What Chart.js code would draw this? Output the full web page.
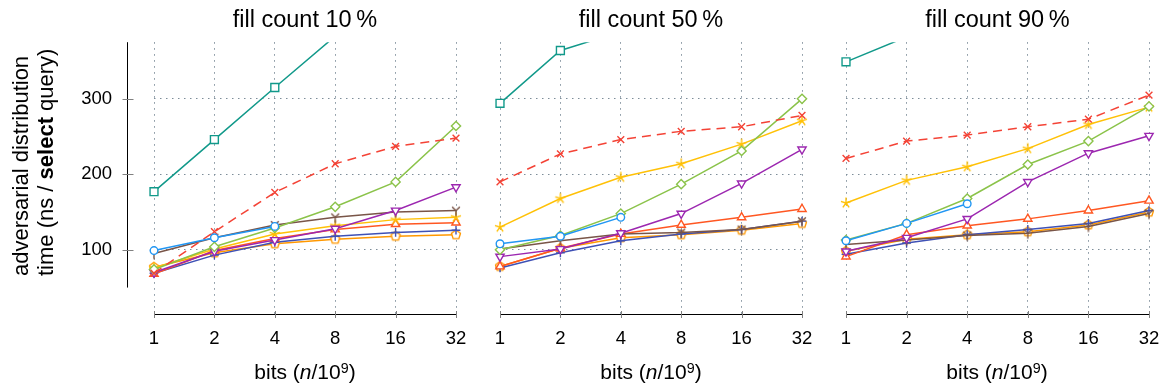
<!DOCTYPE html>
<html><head><meta charset="utf-8">
<script src="https://cdn.jsdelivr.net/npm/chart.js@4.4.1/dist/chart.umd.min.js"></script>
<style>
html,body{margin:0;padding:0;background:#fff;}
#wrap{position:relative;width:1161px;height:387px;overflow:hidden;font-family:"Liberation Sans",Arial,sans-serif;color:#000;}
canvas{position:absolute;top:0;}
.xt{position:absolute;top:360px;width:240px;margin-left:-120px;font-size:21px;line-height:24px;white-space:nowrap;text-align:center;}
.xt .sup{position:relative;top:-0.45em;font-size:0.68em;}
.yt{position:absolute;left:8px;top:276px;transform-origin:0 0;transform:rotate(-90deg);font-size:22px;line-height:25px;white-space:nowrap;text-align:left;}
</style></head><body>
<div id="wrap">
<canvas id="c0" width="470" height="387" style="left:0px"></canvas>
<canvas id="c1" width="344" height="387" style="left:470px"></canvas>
<canvas id="c2" width="345" height="387" style="left:816px"></canvas>
<div class="yt">adversarial distribution<br>time (ns / <b>select</b> query)</div>
<div class="xt" style="left:305px">bits (<i>n</i>/10<span class="sup">9</span>)</div>
<div class="xt" style="left:651px">bits (<i>n</i>/10<span class="sup">9</span>)</div>
<div class="xt" style="left:997px">bits (<i>n</i>/10<span class="sup">9</span>)</div>
</div>
<script>
// ---- data ----
const xLabels = ['1', '2', '4', '8', '16', '32'];
const panelTitles = ['fill count 10\u2009%', 'fill count 50\u2009%', 'fill count 90\u2009%'];
const yTicks = [100, 200, 300];

// one inner array per panel (10 %, 50 %, 90 %)
const tealSquare   = [[177, 246, 315, 383, 450, 520], [294, 364, 389, 415, 440, 465], [349, 382, 405, 425, 445, 465]];
const redCrossDash = [[69, 124, 176, 214, 237, 248], [190, 227, 246, 257, 263, 278], [221, 244, 252, 263, 273, 305]];
const greenDiamond = [[74, 104, 129, 157, 190, 264], [100, 119, 148, 187, 231, 300], [113, 135, 168, 213, 244, 290]];
const purpleTriDown= [[70, 98, 113, 128, 152, 183], [91, 101, 122, 148, 188, 233], [98, 116, 141, 190, 228, 251]];
const brownY       = [[95, 116, 133, 143, 150, 152], [101, 112, 121, 123, 127, 138], [107, 113, 119, 122, 131, 148]];
const yellowStar   = [[76, 101, 121, 132, 140, 143], [130, 168, 196, 214, 240, 271], [162, 192, 210, 234, 266, 289]];
const redTriangle  = [[68, 99, 115, 127, 134, 136], [78, 102, 121, 133, 143, 154], [91, 120, 132, 141, 152, 165]];
const indigoPlus   = [[69, 93, 110, 118, 123, 126], [76, 96, 112, 121, 127, 138], [94, 109, 120, 127, 135, 152]];
const orangePent   = [[77, 96, 108, 114, 118, 120], [78, 102, 116, 120, 126, 135], [98, 114, 120, 124, 133, 150]];
const blueCircle   = [[99, 116, 131, null, null, null], [108, 118, 143, null, null, null], [112, 135, 161, null, null, null]];
const redSmallX    = [[99, 116, 131, null, null, null], [108, 118, 143, null, null, null], [112, 135, 161, null, null, null]];

// ---- custom markers ----
function marker(kind, color) {
  const c = document.createElement('canvas');
  c.width = 14; c.height = 14;
  const g = c.getContext('2d');
  g.strokeStyle = color; g.fillStyle = '#fff'; g.lineWidth = 1.4; g.lineJoin = 'miter';
  const cx = 7, cy = 7;
  if (kind === 'pent') {
    g.beginPath();
    for (let k = 0; k < 5; k++) {
      const a = -Math.PI / 2 + k * 2 * Math.PI / 5;
      const px = cx + 4.8 * Math.cos(a), py = cy + 4.8 * Math.sin(a);
      k ? g.lineTo(px, py) : g.moveTo(px, py);
    }
    g.closePath(); g.fill(); g.stroke();
  } else if (kind === 'star') {
    g.beginPath();
    for (let k = 0; k < 5; k++) {
      const a = -Math.PI / 2 + k * 2 * Math.PI / 5;
      g.moveTo(cx, cy); g.lineTo(cx + 5.4 * Math.cos(a), cy + 5.4 * Math.sin(a));
    }
    g.stroke();
  } else if (kind === 'y') {
    g.beginPath();
    [Math.PI / 2, -Math.PI / 2 - 0.8, -Math.PI / 2 + 0.8].forEach(a => {
      g.moveTo(cx, cy); g.lineTo(cx + 5.4 * Math.cos(a), cy + 5.4 * Math.sin(a));
    });
    g.stroke();
  }
  return c;
}

const FAMILY = '"Liberation Sans", Arial, Helvetica, sans-serif';
const series = [
  { data: blueCircle,   color: '#2196f3', style: 'circle',   r: 3.8 },
  { data: redSmallX,    color: '#f44336', style: 'crossRot', r: 2.6, noLine: true },
  { data: tealSquare,   color: '#11998a', style: 'rect',     r: 5.6 },
  { data: redCrossDash, color: '#f44336', style: 'crossRot', r: 4.8, dash: [9, 6] },
  { data: greenDiamond, color: '#8bc34a', style: 'rectRot',  r: 4.6 },
  { data: purpleTriDown,color: '#9c27b0', style: 'triangle', r: 4.8, rot: 180 },
  { data: brownY,       color: '#795548', style: marker('y', '#795548'), r: 4 },
  { data: yellowStar,   color: '#ffc107', style: marker('star', '#ffc107'), r: 4 },
  { data: redTriangle,  color: '#ff5722', style: 'triangle', r: 4.8 },
  { data: indigoPlus,   color: '#3f51b5', style: 'cross',    r: 4.4 },
  { data: orangePent,   color: '#ff9800', style: marker('pent', '#ff9800'), r: 4 }
];

const GRID = '#7d8d99';
const axisDeco = {
  id: 'axisDeco',
  afterDraw(chart, args, opts) {
    const { ctx, chartArea, scales } = chart;
    const xs = scales.x, ys = scales.y;
    ctx.save();
    ctx.lineWidth = 1;
    ctx.strokeStyle = '#808080';
    xs.ticks.forEach((t, i) => {
      const px = Math.round(xs.getPixelForTick(i)) + 0.5;
      ctx.beginPath(); ctx.moveTo(px, chartArea.bottom - 3); ctx.lineTo(px, chartArea.bottom + 4); ctx.stroke();
    });
    if (opts.yLine) {
      const ax = Math.round(chartArea.left - 27) + 0.5;
      ctx.strokeStyle = '#000';
      ctx.beginPath(); ctx.moveTo(ax, ys.getPixelForValue(375)); ctx.lineTo(ax, ys.getPixelForValue(50)); ctx.stroke();
      ctx.strokeStyle = '#808080';
      yTicks.forEach(v => {
        const py = Math.round(ys.getPixelForValue(v)) + 0.5;
        ctx.beginPath(); ctx.moveTo(ax - 5, py); ctx.lineTo(ax + 6, py); ctx.stroke();
      });
    }
    ctx.restore();
  }
};

function makeChart(id, pi, yWidth, padRight, showY) {
  const datasets = series.map(s => ({
    data: s.data[pi],
    borderColor: s.color,
    backgroundColor: '#fff',
    borderWidth: 1.5,
    borderDash: s.dash || [],
    showLine: !s.noLine,
    pointStyle: s.style,
    pointRadius: s.r,
    pointBorderWidth: 1.4,
    pointBorderColor: s.color,
    pointBackgroundColor: '#fff',
    pointRotation: s.rot || 0,
    tension: 0,
    fill: false,
    spanGaps: false
  }));
  return new Chart(document.getElementById(id), {
    type: 'line',
    data: { labels: xLabels, datasets },
    plugins: [axisDeco],
    options: {
      responsive: false,
      animation: false,
      events: [],
      layout: { padding: { left: 0, right: padRight, top: 0, bottom: 0 } },
      plugins: {
        legend: { display: false },
        tooltip: { enabled: false },
        title: {
          display: true, text: panelTitles[pi], fullSize: false, color: '#000',
          font: { size: 23.5, family: FAMILY, weight: 'normal' },
          padding: { top: 6, bottom: 8 }
        },
        axisDeco: { yLine: showY }
      },
      scales: {
        x: {
          type: 'category', offset: false,
          afterFit: s => { s.height = 73; s.paddingLeft = 0; s.paddingRight = 0; },
          ticks: { padding: 14, color: '#000', maxRotation: 0, autoSkip: false, font: { size: 18.5, family: FAMILY } },
          grid: { drawTicks: false, color: GRID, lineWidth: 1 },
          border: { display: true, color: '#000', width: 1, dash: [1.5, 4.5] }
        },
        y: {
          min: 15, max: 375,
          afterBuildTicks: s => { s.ticks = yTicks.map(v => ({ value: v })); },
          afterFit: s => { s.width = yWidth; s.paddingTop = 0; s.paddingBottom = 0; },
          ticks: { display: showY, padding: 42, color: '#000', font: { size: 18.5, family: FAMILY } },
          grid: { drawTicks: false, color: GRID, lineWidth: 1 },
          border: { display: false, dash: [1.5, 4.5] }
        }
      }
    }
  });
}

makeChart('c0', 0, 154, 14, true);
makeChart('c1', 1, 30, 12, false);
makeChart('c2', 2, 30, 12, false);
</script>
</body></html>
